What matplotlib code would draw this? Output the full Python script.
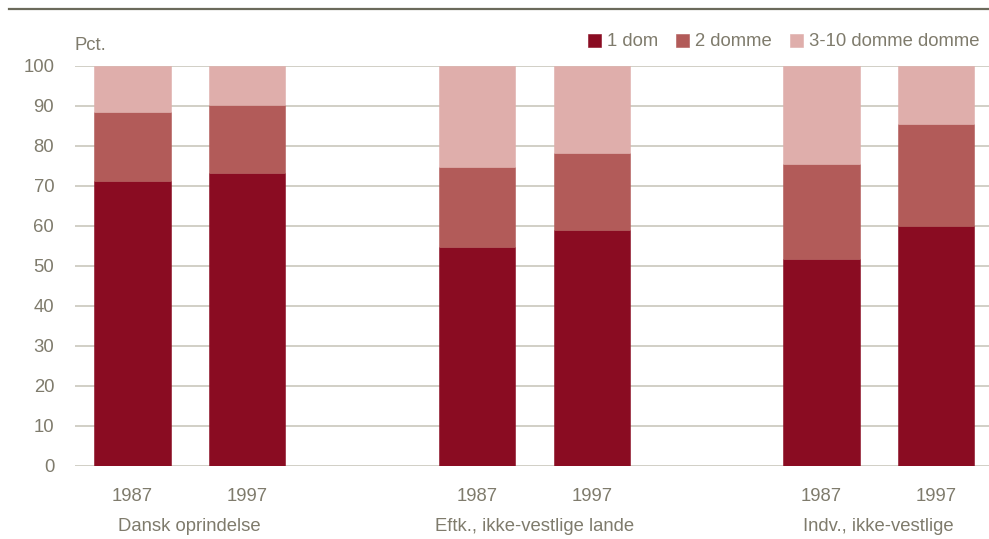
import matplotlib
matplotlib.use("Agg")
import matplotlib.pyplot as plt
from matplotlib.lines import Line2D
from matplotlib import font_manager

fams = {f.name for f in font_manager.fontManager.ttflist}
FONT = "Liberation Sans Narrow" if "Liberation Sans Narrow" in fams else "Liberation Sans"
plt.rcParams['font.family'] = [FONT, 'DejaVu Sans']
FS = 14.5 if FONT == "Liberation Sans Narrow" else 13.3

groups = ["Dansk oprindelse", "Eftk., ikke-vestlige lande", "Indv., ikke-vestlige"]
years = ["1987", "1997", "1987", "1997", "1987", "1997"]
series_names = ["1 dom", "2 domme", "3-10 domme domme"]
one_dom = [71.1, 73.3, 54.7, 58.9, 51.6, 60.0]
two_domme = [17.3, 16.9, 20.1, 19.3, 23.9, 25.5]
three_ten = [11.6, 9.8, 25.2, 21.8, 24.5, 14.5]
positions = [0, 1, 3, 4, 6, 7]
colors = ["#8a0c22", "#b25b59", "#dfaeab"]
text_col = "#7f7b6c"
grid_col = "#c9c7bc"

fig = plt.figure(figsize=(9.89, 5.39), dpi=100)
ax = fig.add_axes([0.0758, 0.136, 0.9242, 0.742])

bottom = [0.0] * len(positions)
handles = []
for vals, col, name in zip([one_dom, two_domme, three_ten], colors, series_names):
    b = ax.bar(positions, vals, width=0.665, bottom=bottom, color=col,
               edgecolor=col, linewidth=0.4, label=name, zorder=3)
    handles.append(b)
    bottom = [a + v for a, v in zip(bottom, vals)]

ax.set_ylim(0, 100)
ax.set_xlim(-0.5, 7.46)
ax.set_yticks(range(0, 101, 10))
ax.yaxis.grid(True, color=grid_col, linewidth=1.2, zorder=0)
ax.set_axisbelow(True)
for s in ax.spines.values():
    s.set_visible(False)
ax.tick_params(axis='y', length=0, pad=15, labelsize=FS, labelcolor=text_col)
ax.set_xticks(positions)
ax.set_xticklabels(years)
ax.tick_params(axis='x', length=0, pad=16, labelsize=FS, labelcolor=text_col)

# group labels
for i, g in enumerate(groups):
    ax.text((positions[2 * i] + positions[2 * i + 1]) / 2, -0.1525, g,
            transform=ax.get_xaxis_transform(), ha='center', va='center',
            fontsize=FS, color=text_col)

fig.text(75 / 989, 1 - 45 / 539, "Pct.", ha='left', va='center',
         fontsize=FS, color=text_col)

leg = ax.legend(handles=handles, labels=series_names, ncol=3, frameon=False,
                loc='center right', bbox_to_anchor=(0.99, 1 - 42 / 539),
                bbox_transform=fig.transFigure,
                handlelength=0.7, handleheight=0.7, handletextpad=0.3,
                columnspacing=1.0, fontsize=FS, borderpad=0, borderaxespad=0)
for t in leg.get_texts():
    t.set_color(text_col)

fig.add_artist(Line2D([9 / 989, 1.0], [1 - 8.5 / 539, 1 - 8.5 / 539],
                      transform=fig.transFigure, color="#6b6a5b", linewidth=1.6))

fig.savefig("out.png", dpi=100)
